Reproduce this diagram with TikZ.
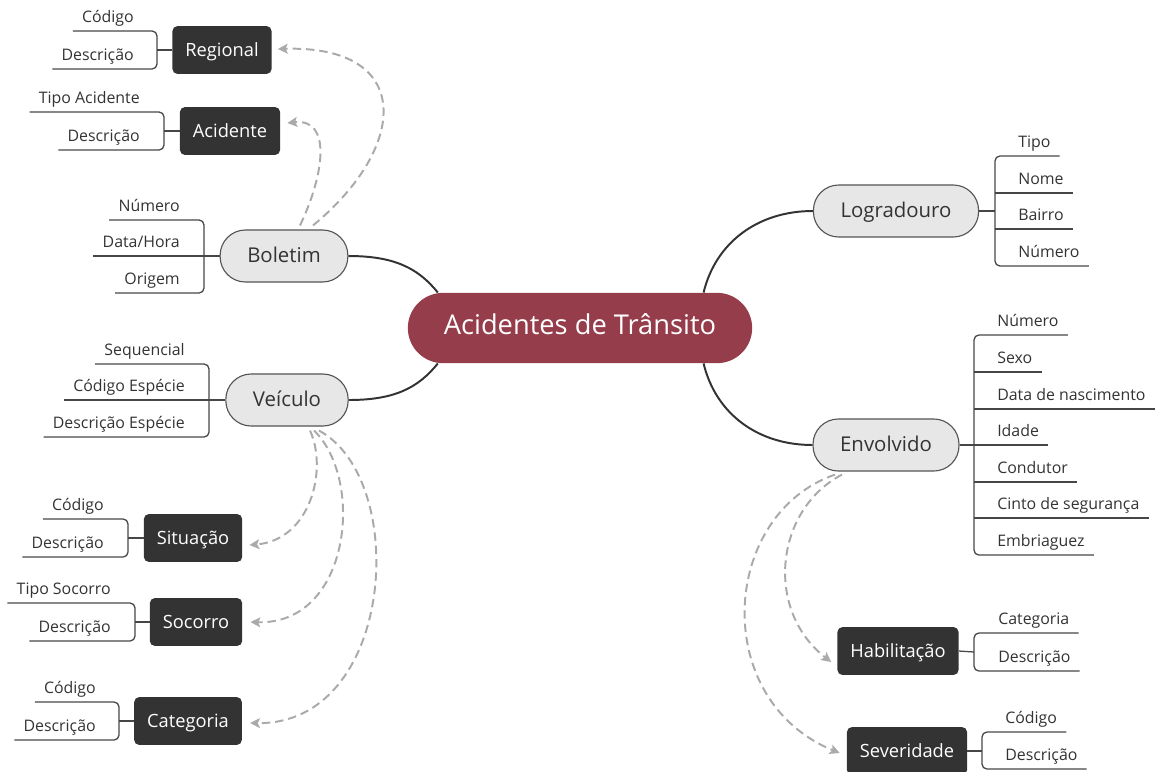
\documentclass[tikz,border=0pt]{standalone}
\usepackage{fontspec}
\setmainfont{Open Sans}
\usetikzlibrary{calc,arrows.meta}
\definecolor{rootred}{RGB}{150,61,76}
\definecolor{boxgray}{RGB}{231,231,231}
\definecolor{edgegray}{RGB}{85,85,85}
\definecolor{boxdark}{RGB}{51,51,51}
\definecolor{txtdark}{RGB}{51,51,51}
\definecolor{stemgray}{RGB}{70,70,70}
\definecolor{dashgray}{RGB}{170,170,170}
\begin{document}
\begin{tikzpicture}[x=0.025cm, y=-0.025cm,
  rootbox/.style={fill=rootred, text=white, rounded corners=25pt, minimum height=50pt, inner xsep=25.6pt,
    text height=0.95em, text depth=0pt, font=\fontsize{19.4pt}{23pt}\selectfont},
  topic/.style={fill=boxgray, draw=edgegray, line width=0.8pt, rounded corners=18pt, minimum height=37pt,
    inner xsep=19.3pt, text=txtdark, text height=0.95em, text depth=0pt, font=\fontsize{14.5pt}{17pt}\selectfont},
  darkbox/.style={fill=boxdark, text=white, rounded corners=3.5pt, minimum height=34pt, inner xsep=9.2pt,
    text height=0.95em, text depth=0pt, font=\fontsize{13pt}{15pt}\selectfont},
  leaf/.style={text=txtdark, inner xsep=0pt, inner ysep=3.6pt, text depth=0.25em,
    font=\fontsize{11.3pt}{13pt}\selectfont},
  branch/.style={draw=boxdark, line width=1.4pt},
  stem/.style={draw=stemgray, line width=0.9pt, rounded corners=3.5pt},
  dep/.style={draw=dashgray, line width=1.4pt, dash pattern=on 6pt off 3.5pt,
    -{Stealth[length=7pt, width=7pt, inset=1.5pt]}}]
\useasboundingbox (0,0) rectangle (1155,771);

\node[rootbox] (root) at (580,328) {Acidentes de Trânsito};
\node[topic] (bol) at (284,256) {Boletim};
\node[topic] (vei) at (287,400) {Veículo};
\node[topic] (log) at (896,211) {Logradouro};
\node[topic] (env) at (886,445) {Envolvido};
\node[darkbox] (reg) at (222,50) {Regional};
\node[darkbox] (acid) at (230,131) {Acidente};
\node[darkbox] (sit) at (193,538) {Situação};
\node[darkbox] (soc) at (196,622) {Socorro};
\node[darkbox] (cat) at (188,721) {Categoria};
\node[darkbox] (hab) at (898,651) {Habilitação};
\node[darkbox] (sev) at (907,751) {Severidade};

\draw[branch] (bol.east) .. controls +(45,0) and +(-20,-25) .. (root.166);
\draw[branch] (vei.east) .. controls +(45,0) and +(-20,25) .. (root.194);
\draw[branch] (root.16) .. controls +(12,-50) and +(-55,0) .. (log.west);
\draw[branch] (root.344) .. controls +(12,50) and +(-55,0) .. (env.west);

\coordinate (regB) at (157,50);
\node[leaf, anchor=south east] (regCod) at (134,31) {Código};
\node[leaf, anchor=south east] (regDes) at (134,69) {Descrição};
\draw[stem] ($(regCod.south west)+(-9,0)$) -| (regB) |- ($(regDes.south west)+(-9,0)$);
\draw[stem] (regB) -- (reg.west);

\coordinate (acB) at (164,131);
\node[leaf, anchor=south east] (acTip) at (140,112) {Tipo Acidente};
\node[leaf, anchor=south east] (acDes) at (140,150) {Descrição};
\draw[stem] ($(acTip.south west)+(-9,0)$) -| (acB) |- ($(acDes.south west)+(-9,0)$);
\draw[stem] (acB) -- (acid.west);

\coordinate (bolB) at (204,256);
\node[leaf, anchor=south east] (bolNum) at (180,220) {Número};
\node[leaf, anchor=south east] (bolDat) at (180,256) {Data/Hora};
\node[leaf, anchor=south east] (bolOri) at (180,293) {Origem};
\draw[stem] ($(bolNum.south west)+(-9,0)$) -| (bolB) |- ($(bolOri.south west)+(-9,0)$);
\draw[stem] ($(bolDat.south west)+(-9,0)$) -- (bol.west);

\coordinate (veiB) at (209,400);
\node[leaf, anchor=south east] (veiSeq) at (185,364) {Sequencial};
\node[leaf, anchor=south east] (veiCod) at (185,400) {Código Espécie};
\node[leaf, anchor=south east] (veiDes) at (185,437) {Descrição Espécie};
\draw[stem] ($(veiSeq.south west)+(-9,0)$) -| (veiB) |- ($(veiDes.south west)+(-9,0)$);
\draw[stem] ($(veiCod.south west)+(-9,0)$) -- (vei.west);

\coordinate (sitB) at (128,538);
\node[leaf, anchor=south east] (sitCod) at (104,519) {Código};
\node[leaf, anchor=south east] (sitDes) at (104,557) {Descrição};
\draw[stem] ($(sitCod.south west)+(-9,0)$) -| (sitB) |- ($(sitDes.south west)+(-9,0)$);
\draw[stem] (sitB) -- (sit.west);

\coordinate (socB) at (135,622);
\node[leaf, anchor=south east] (socTip) at (111,603) {Tipo Socorro};
\node[leaf, anchor=south east] (socDes) at (111,641) {Descrição};
\draw[stem] ($(socTip.south west)+(-9,0)$) -| (socB) |- ($(socDes.south west)+(-9,0)$);
\draw[stem] (socB) -- (soc.west);

\coordinate (catB) at (119,721);
\node[leaf, anchor=south east] (catCod) at (96,702) {Código};
\node[leaf, anchor=south east] (catDes) at (96,740) {Descrição};
\draw[stem] ($(catCod.south west)+(-9,0)$) -| (catB) |- ($(catDes.south west)+(-9,0)$);
\draw[stem] (catB) -- (cat.west);

\coordinate (logB) at (995,211);
\node[leaf, anchor=south west] (logTip) at (1018,156) {Tipo};
\node[leaf, anchor=south west] (logNom) at (1018,193) {Nome};
\node[leaf, anchor=south west] (logBai) at (1018,229) {Bairro};
\node[leaf, anchor=south west] (logNum) at (1018,266) {Número};
\draw[stem] ($(logTip.south east)+(9,0)$) -| (logB) |- ($(logNum.south east)+(9,0)$);
\draw[stem] (logB |- logNom.south) -- ($(logNom.south east)+(9,0)$);
\draw[stem] (logB |- logBai.south) -- ($(logBai.south east)+(9,0)$);
\draw[stem] (log.east) -- (logB);

\coordinate (envB) at (974,445);
\node[leaf, anchor=south west] (envNum) at (997,335) {Número};
\node[leaf, anchor=south west] (envSex) at (997,372) {Sexo};
\node[leaf, anchor=south west] (envDat) at (997,409) {Data de nascimento};
\node[leaf, anchor=south west] (envIda) at (997,445) {Idade};
\node[leaf, anchor=south west] (envCon) at (997,482) {Condutor};
\node[leaf, anchor=south west] (envCin) at (997,518) {Cinto de segurança};
\node[leaf, anchor=south west] (envEmb) at (997,555) {Embriaguez};
\draw[stem] ($(envNum.south east)+(9,0)$) -| (envB) |- ($(envEmb.south east)+(9,0)$);
\draw[stem] (envB |- envSex.south) -- ($(envSex.south east)+(9,0)$);
\draw[stem] (envB |- envDat.south) -- ($(envDat.south east)+(9,0)$);
\draw[stem] (envB |- envCon.south) -- ($(envCon.south east)+(9,0)$);
\draw[stem] (envB |- envCin.south) -- ($(envCin.south east)+(9,0)$);
\draw[stem] (env.east) -- ($(envIda.south east)+(9,0)$);

\coordinate (habB) at (974,652);
\node[leaf, anchor=south west] (habCat) at (998,633) {Categoria};
\node[leaf, anchor=south west] (habDes) at (998,671) {Descrição};
\draw[stem] ($(habCat.south east)+(9,0)$) -| (habB) |- ($(habDes.south east)+(9,0)$);
\draw[stem] (hab.east) -- (habB);

\coordinate (sevB) at (982,751);
\node[leaf, anchor=south west] (sevCod) at (1005,732) {Código};
\node[leaf, anchor=south west] (sevDes) at (1005,769) {Descrição};
\draw[stem] ($(sevCod.south east)+(9,0)$) -| (sevB) |- ($(sevDes.south east)+(9,0)$);
\draw[stem] (sev.east) -- (sevB);

\draw[dep] ($(bol.north)+(16,-4)$) .. controls +(24,-50) and +(45,-5) .. ($(acid.east)+(7,-8)$);
\draw[dep] ($(bol.north)+(29,-4)$) .. controls +(97,-80) and +(135,-4) .. ($(reg.east)+(6,-1)$);
\draw[dep] ($(vei.south)+(23,4)$) .. controls +(18,39) and +(61,-5) .. ($(sit.east)+(7,7)$);
\draw[dep] ($(vei.south)+(27,4)$) .. controls +(51,49) and +(100,3) .. ($(soc.east)+(8,0)$);
\draw[dep] ($(vei.south)+(32,4)$) .. controls +(91,49) and +(145,2) .. ($(cat.east)+(8,2)$);
\draw[dep] ($(env.south)+(-44,3)$) .. controls +(-67,35) and +(-67,-52) .. ($(hab.west)+(-6,11)$);
\draw[dep] ($(env.south)+(-51,3)$) .. controls +(-115,40) and +(-130,-53) .. ($(sev.west)+(-7,2)$);
\end{tikzpicture}
\end{document}
